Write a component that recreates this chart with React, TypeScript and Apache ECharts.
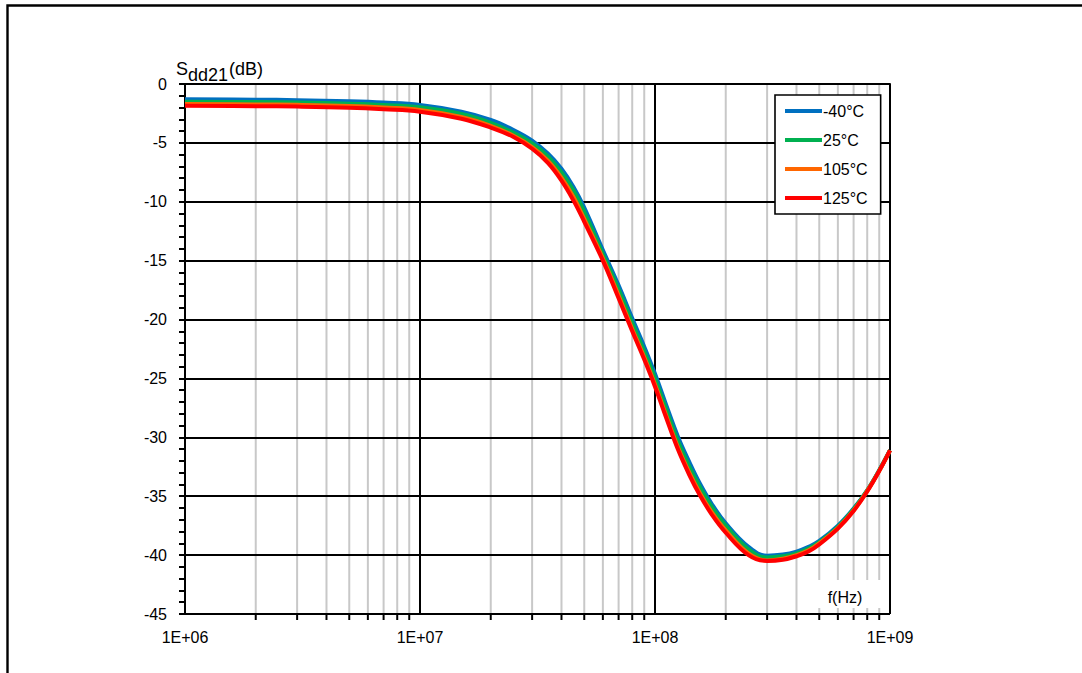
import React, { useEffect, useRef } from "react";
import * as echarts from "echarts";

const FONT = "'Liberation Sans', Arial, Helvetica, sans-serif";

const freqs = [
  1e6, 2e6, 3e6, 5e6, 7e6, 1e7, 1.5e7, 2e7, 2.5e7, 3e7, 3.5e7, 4e7, 4.5e7, 5e7,
  6e7, 7e7, 8e7, 9e7, 1e8, 1.1e8, 1.25e8, 1.4e8, 1.55e8, 1.75e8, 2e8, 2.5e8,
  3e8, 3.5e8, 4e8, 4.5e8, 5e8, 6e8, 7e8, 8e8, 9e8, 1e9,
];

const sM40 = [
  -1.3, -1.33, -1.37, -1.47, -1.58, -1.78, -2.35, -3.05, -3.9, -4.8, -5.9, -7.2,
  -8.75, -10.5, -14.1, -17.1, -19.9, -22.3, -24.6, -26.9, -29.9, -32.1, -33.9,
  -35.7, -37.3, -39.3, -40.05, -39.95, -39.7, -39.3, -38.8, -37.5, -36.05,
  -34.5, -32.8, -31.1,
];
const s25 = [
  -1.5, -1.53, -1.57, -1.67, -1.78, -1.98, -2.55, -3.3, -4.15, -5.05, -6.15,
  -7.5, -9.05, -10.85, -14.45, -17.45, -20.3, -22.7, -25.0, -27.3, -30.3, -32.5,
  -34.2, -35.95, -37.5, -39.5, -40.2, -40.1, -39.85, -39.45, -38.9, -37.6,
  -36.1, -34.5, -32.8, -31.1,
];
const s105 = [
  -1.7, -1.73, -1.77, -1.87, -2.0, -2.2, -2.8, -3.55, -4.4, -5.35, -6.5, -7.95,
  -9.6, -11.45, -14.8, -17.95, -20.8, -23.2, -25.5, -27.8, -30.8, -33.0, -34.7,
  -36.4, -37.9, -39.85, -40.45, -40.3, -40.0, -39.6, -39.0, -37.7, -36.2,
  -34.55, -32.85, -31.1,
];
const s125 = [
  -1.85, -1.88, -1.92, -2.02, -2.15, -2.35, -2.95, -3.7, -4.5, -5.5, -6.7, -8.2,
  -9.9, -11.7, -15.0, -18.2, -21.0, -23.4, -25.7, -28.0, -31.0, -33.2, -34.9,
  -36.6, -38.1, -40.0, -40.5, -40.4, -40.1, -39.7, -39.1, -37.75, -36.25,
  -34.6, -32.85, -31.1,
];

const seriesNames = ["-40°C", "25°C", "105°C", "125°C"];
const seriesColors = ["#0070C0", "#00B050", "#FF6600", "#FF0000"];
const seriesValues = [sM40, s25, s105, s125];

const minorFreqs = [
  2e6, 3e6, 4e6, 5e6, 6e6, 7e6, 8e6, 9e6, 2e7, 3e7, 4e7, 5e7, 6e7, 7e7, 8e7,
  9e7, 2e8, 3e8, 4e8, 5e8, 6e8, 7e8, 8e8, 9e8,
];

const yMin = -45;
const yMax = 0;

export default function App() {
  const ref = useRef<HTMLDivElement>(null);

  useEffect(() => {
    if (!ref.current) return;
    const chart = echarts.init(ref.current, null, { renderer: "svg" });

    const lineSeries = seriesNames.map((name, i) => ({
      name,
      type: "line",
      data: freqs.map((f, j) => [f, seriesValues[i][j]]),
      smooth: 0.4,
      showSymbol: false,
      symbol: "none",
      lineStyle: { color: seriesColors[i], width: 4 },
      itemStyle: { color: seriesColors[i] },
      z: 2 + i * 0.1,
    }));

    const txt = (text: string, x: number, y: number, size: number, align = "left") => ({
      type: "text",
      z: 51,
      x,
      y,
      style: {
        text,
        fill: "#000",
        fontSize: size,
        fontFamily: FONT,
        align,
        verticalAlign: "middle",
      },
    });

    const option: any = {
      animation: false,
      backgroundColor: "#ffffff",
      textStyle: { fontFamily: FONT },
      grid: { left: 185, top: 84, right: 192, bottom: 59, containLabel: false },
      xAxis: {
        type: "log",
        logBase: 10,
        min: 1e6,
        max: 1e9,
        z: 1,
        axisLine: { show: true, lineStyle: { color: "#000", width: 2 } },
        axisTick: { show: true, length: 6, lineStyle: { color: "#000", width: 2 } },
        axisLabel: {
          color: "#000",
          fontSize: 16,
          fontFamily: FONT,
          margin: 15,
          formatter: (v: number) => {
            const e = Math.round(Math.log10(v));
            return "1E+" + (e < 10 ? "0" + e : String(e));
          },
        },
        splitLine: { show: true, lineStyle: { color: "#000", width: 2 } },
      },
      yAxis: {
        type: "value",
        min: yMin,
        max: yMax,
        interval: 5,
        z: 1,
        axisLine: { show: true, lineStyle: { color: "#000", width: 2 } },
        axisTick: { show: true, length: 6, lineStyle: { color: "#000", width: 2 } },
        minorTick: { show: true, splitNumber: 5, length: 6, lineStyle: { color: "#000", width: 2 } },
        axisLabel: { color: "#000", fontSize: 16, fontFamily: FONT, margin: 18 },
        splitLine: { show: true, lineStyle: { color: "#000", width: 2 } },
      },
      legend: {
        show: true,
        data: seriesNames,
        orient: "vertical",
        left: 775,
        top: 95,
        padding: [8, 13, 8, 10],
        itemGap: 13,
        itemWidth: 37,
        itemHeight: 4,
        icon: "rect",
        backgroundColor: "#ffffff",
        borderColor: "#000",
        borderWidth: 1.6,
        borderRadius: 0,
        z: 20,
        textStyle: {
          color: "#000",
          fontSize: 16,
          fontFamily: FONT,
          lineHeight: 16,
          padding: [0, 0, 0, -4],
        },
      },
      graphic: [
        {
          type: "rect",
          z: 100,
          silent: true,
          shape: { x: 7.5, y: 5.5, width: 1300, height: 900 },
          style: { fill: "none", stroke: "#000", lineWidth: 2.4 },
        },
        {
          type: "rect",
          z: 50,
          silent: true,
          shape: { x: 818, y: 580, width: 64, height: 28 },
          style: { fill: "#ffffff", stroke: "none" },
        },
        txt("f(Hz)", 845, 597, 16, "center"),
        txt("S", 176, 69, 18),
        txt("dd21", 188, 75, 18),
        txt("(dB)", 229, 69, 18),
      ],
      series: [
        {
          name: "minorGrid",
          type: "custom",
          z: 0,
          silent: true,
          clip: false,
          data: minorFreqs.map((f) => [f, yMin]),
          encode: { x: 0, y: 1 },
          renderItem: (params: any, api: any) => {
            const f = api.value(0);
            const top = api.coord([f, yMax]);
            const bot = api.coord([f, yMin]);
            return {
              type: "group",
              children: [
                {
                  type: "line",
                  shape: { x1: top[0], y1: top[1], x2: bot[0], y2: bot[1] },
                  style: { stroke: "#c8c8c8", lineWidth: 2 },
                },
                {
                  type: "line",
                  shape: { x1: bot[0], y1: bot[1], x2: bot[0], y2: bot[1] + 6 },
                  style: { stroke: "#000", lineWidth: 2 },
                },
              ],
            };
          },
        },
        ...lineSeries,
      ],
    };

    chart.setOption(option);
    return () => chart.dispose();
  }, []);

  return (
    <div
      ref={ref}
      style={{ position: "absolute", left: 0, top: 0, width: 1082, height: 673, background: "#fff" }}
    />
  );
}
